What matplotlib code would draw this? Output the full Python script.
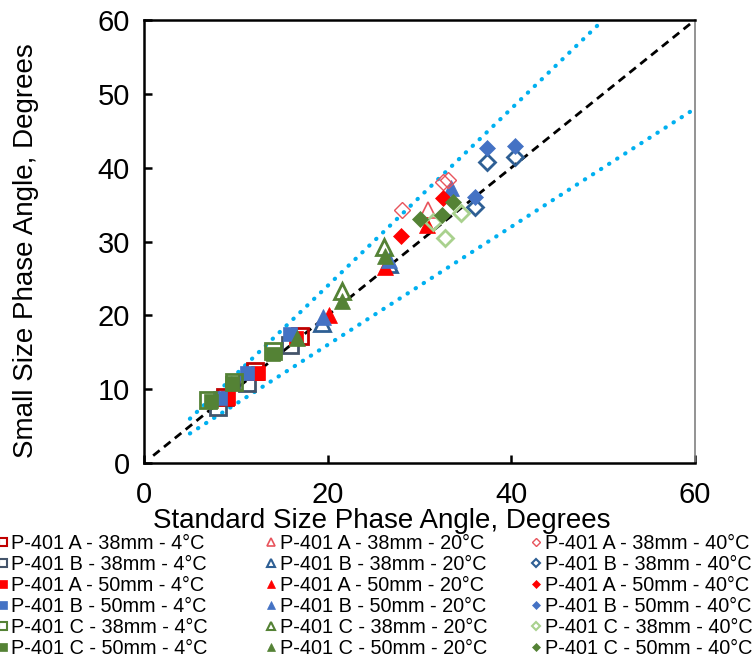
import matplotlib
matplotlib.use("Agg")
import matplotlib.pyplot as plt
from matplotlib.lines import Line2D

plt.rcParams['font.family'] = ['Liberation Sans', 'DejaVu Sans']

# 4 degC series (squares)
a38_4_x = [8.8, 12.1, 17.0]
a38_4_y = [8.9, 12.5, 17.2]
b38_4_x = [8.1, 11.2, 15.9]
b38_4_y = [7.6, 10.8, 16.0]
a50_4_x = [9.2, 12.4, 16.6]
a50_4_y = [8.8, 12.2, 17.0]
b50_4_x = [8.3, 11.2, 15.9]
b50_4_y = [8.8, 12.2, 17.5]
c38_4_x = [7.0, 9.8, 14.0]
c38_4_y = [8.6, 11.0, 15.2]
c50_4_x = [7.3, 9.6, 14.1]
c50_4_y = [8.4, 10.9, 14.8]

# 20 degC series (triangles)
a38_20_x = [30.9]
a38_20_y = [34.3]
b38_20_x = [19.4, 26.7]
b38_20_y = [19.0, 27.0]
a50_20_x = [20.2, 26.3, 30.8]
a50_20_y = [20.1, 26.5, 32.2]
b50_20_x = [19.5, 26.7, 33.4]
b50_20_y = [19.8, 27.5, 37.2]
c38_20_x = [21.6, 26.1]
c38_20_y = [23.3, 29.2]
c50_20_x = [16.7, 21.6, 26.2]
c50_20_y = [17.0, 22.0, 28.0]

# 40 degC series (diamonds)
a38_40_x = [28.1, 32.6, 33.1]
a38_40_y = [34.3, 38.0, 38.3]
b38_40_x = [37.4, 40.4, 36.0]
b38_40_y = [40.8, 41.5, 34.7]
a50_40_x = [28.0, 32.6]
a50_40_y = [30.7, 35.9]
b50_40_x = [37.4, 40.4, 36.0]
b50_40_y = [42.7, 43.0, 36.0]
c38_40_x = [32.8, 34.5, 31.5]
c38_40_y = [30.5, 33.9, 32.7]
c50_40_x = [30.1, 32.5, 33.6]
c50_40_y = [33.0, 33.6, 35.4]

RED_DARK = '#C00000'
RED = '#FF0000'
RED_LIGHT = '#E8545C'
SLATE = '#44546A'
NAVY = '#2E5F94'
BLUE = '#4472C4'
GREEN = '#548235'
GREEN_LIGHT = '#A9D18E'

# (label, x, y, marker, size, face, edge, edge width)
series = [
    ('P-401 A - 38mm - 4°C', a38_4_x, a38_4_y, 's', 11, 'none', RED_DARK, 2.0),
    ('P-401 B - 38mm - 4°C', b38_4_x, b38_4_y, 's', 11, 'none', SLATE, 2.0),
    ('P-401 A - 50mm - 4°C', a50_4_x, a50_4_y, 's', 10, RED, RED, 0.5),
    ('P-401 B - 50mm - 4°C', b50_4_x, b50_4_y, 's', 10, BLUE, BLUE, 0.5),
    ('P-401 C - 38mm - 4°C', c38_4_x, c38_4_y, 's', 11, 'none', GREEN, 2.0),
    ('P-401 C - 50mm - 4°C', c50_4_x, c50_4_y, 's', 10, GREEN, GREEN, 0.5),
    ('P-401 A - 38mm - 20°C', a38_20_x, a38_20_y, '^', 11, 'none', RED_LIGHT, 1.2),
    ('P-401 B - 38mm - 20°C', b38_20_x, b38_20_y, '^', 11, 'none', NAVY, 2.0),
    ('P-401 A - 50mm - 20°C', a50_20_x, a50_20_y, '^', 11, RED, RED, 0.5),
    ('P-401 B - 50mm - 20°C', b50_20_x, b50_20_y, '^', 11, BLUE, BLUE, 0.5),
    ('P-401 C - 38mm - 20°C', c38_20_x, c38_20_y, '^', 11, 'none', GREEN, 2.0),
    ('P-401 C - 50mm - 20°C', c50_20_x, c50_20_y, '^', 11, GREEN, GREEN, 0.5),
    ('P-401 A - 38mm - 40°C', a38_40_x, a38_40_y, 'D', 8.5, 'none', RED_LIGHT, 1.0),
    ('P-401 B - 38mm - 40°C', b38_40_x, b38_40_y, 'D', 8.5, 'none', NAVY, 2.0),
    ('P-401 A - 50mm - 40°C', a50_40_x, a50_40_y, 'D', 8.5, RED, RED, 0.5),
    ('P-401 B - 50mm - 40°C', b50_40_x, b50_40_y, 'D', 8.5, BLUE, BLUE, 0.5),
    ('P-401 C - 38mm - 40°C', c38_40_x, c38_40_y, 'D', 8.5, 'none', GREEN_LIGHT, 2.0),
    ('P-401 C - 50mm - 40°C', c50_40_x, c50_40_y, 'D', 8.5, GREEN, GREEN, 0.5),
]

fig = plt.figure(figsize=(7.55, 6.61), dpi=100)
ax = fig.add_axes([0.1907, 0.2995, 0.7298, 0.6702])

# reference lines
ax.plot([1, 60], [1, 60], color='black', ls=(0, (3, 2)), lw=2, zorder=2)
ax.plot([5, 50], [6, 60], color='#00B0F0', ls=(0, (0.1, 2.2)), lw=3,
        dash_capstyle='round', zorder=2)
ax.plot([5, 60], [4, 48], color='#00B0F0', ls=(0, (0.1, 2.2)), lw=3,
        dash_capstyle='round', zorder=2)

handles = []
for label, x, y, mk, ms, fc, ec, mew in series:
    ax.plot(x, y, ls='none', marker=mk, ms=ms, mfc=fc, mec=ec, mew=mew, zorder=3)
    # smaller marker for legend
    handles.append(Line2D([], [], ls='none', marker=mk, ms=ms * 0.52,
                          mfc=fc, mec=ec, mew=min(mew, 1.5)))

ax.set_xlim(0, 60)
ax.set_ylim(0, 60)
ax.set_xticks([0, 20, 40, 60])
ax.set_yticks([0, 10, 20, 30, 40, 50, 60])
ax.tick_params(axis='both', direction='in', labelsize=21, width=1.8, length=6)
ax.tick_params(axis='x', pad=13)
ax.tick_params(axis='y', pad=10)
for side in ['left', 'bottom', 'top']:
    ax.spines[side].set_linewidth(1.8)
ax.spines['right'].set_color('#808080')
ax.spines['right'].set_linewidth(1.2)

ax.set_xlabel('Standard Size Phase Angle, Degrees', fontsize=20)
ax.set_ylabel('Small Size Phase Angle, Degrees', fontsize=20)
ax.xaxis.set_label_coords(0.432, -0.101)
ax.yaxis.set_label_coords(-0.19, 0.48)

labels = [s[0] for s in series]
col_x = [-0.0045, 0.3505, 0.7015]
for i in range(3):
    fig.legend(handles[i * 6:(i + 1) * 6], labels[i * 6:(i + 1) * 6],
               loc='upper left', bbox_to_anchor=(col_x[i], 0.192),
               frameon=False, fontsize=14.3, handlelength=0.6,
               handletextpad=0.15, labelspacing=0.1, borderpad=0,
               borderaxespad=0)

fig.savefig('out.png', dpi=100)
